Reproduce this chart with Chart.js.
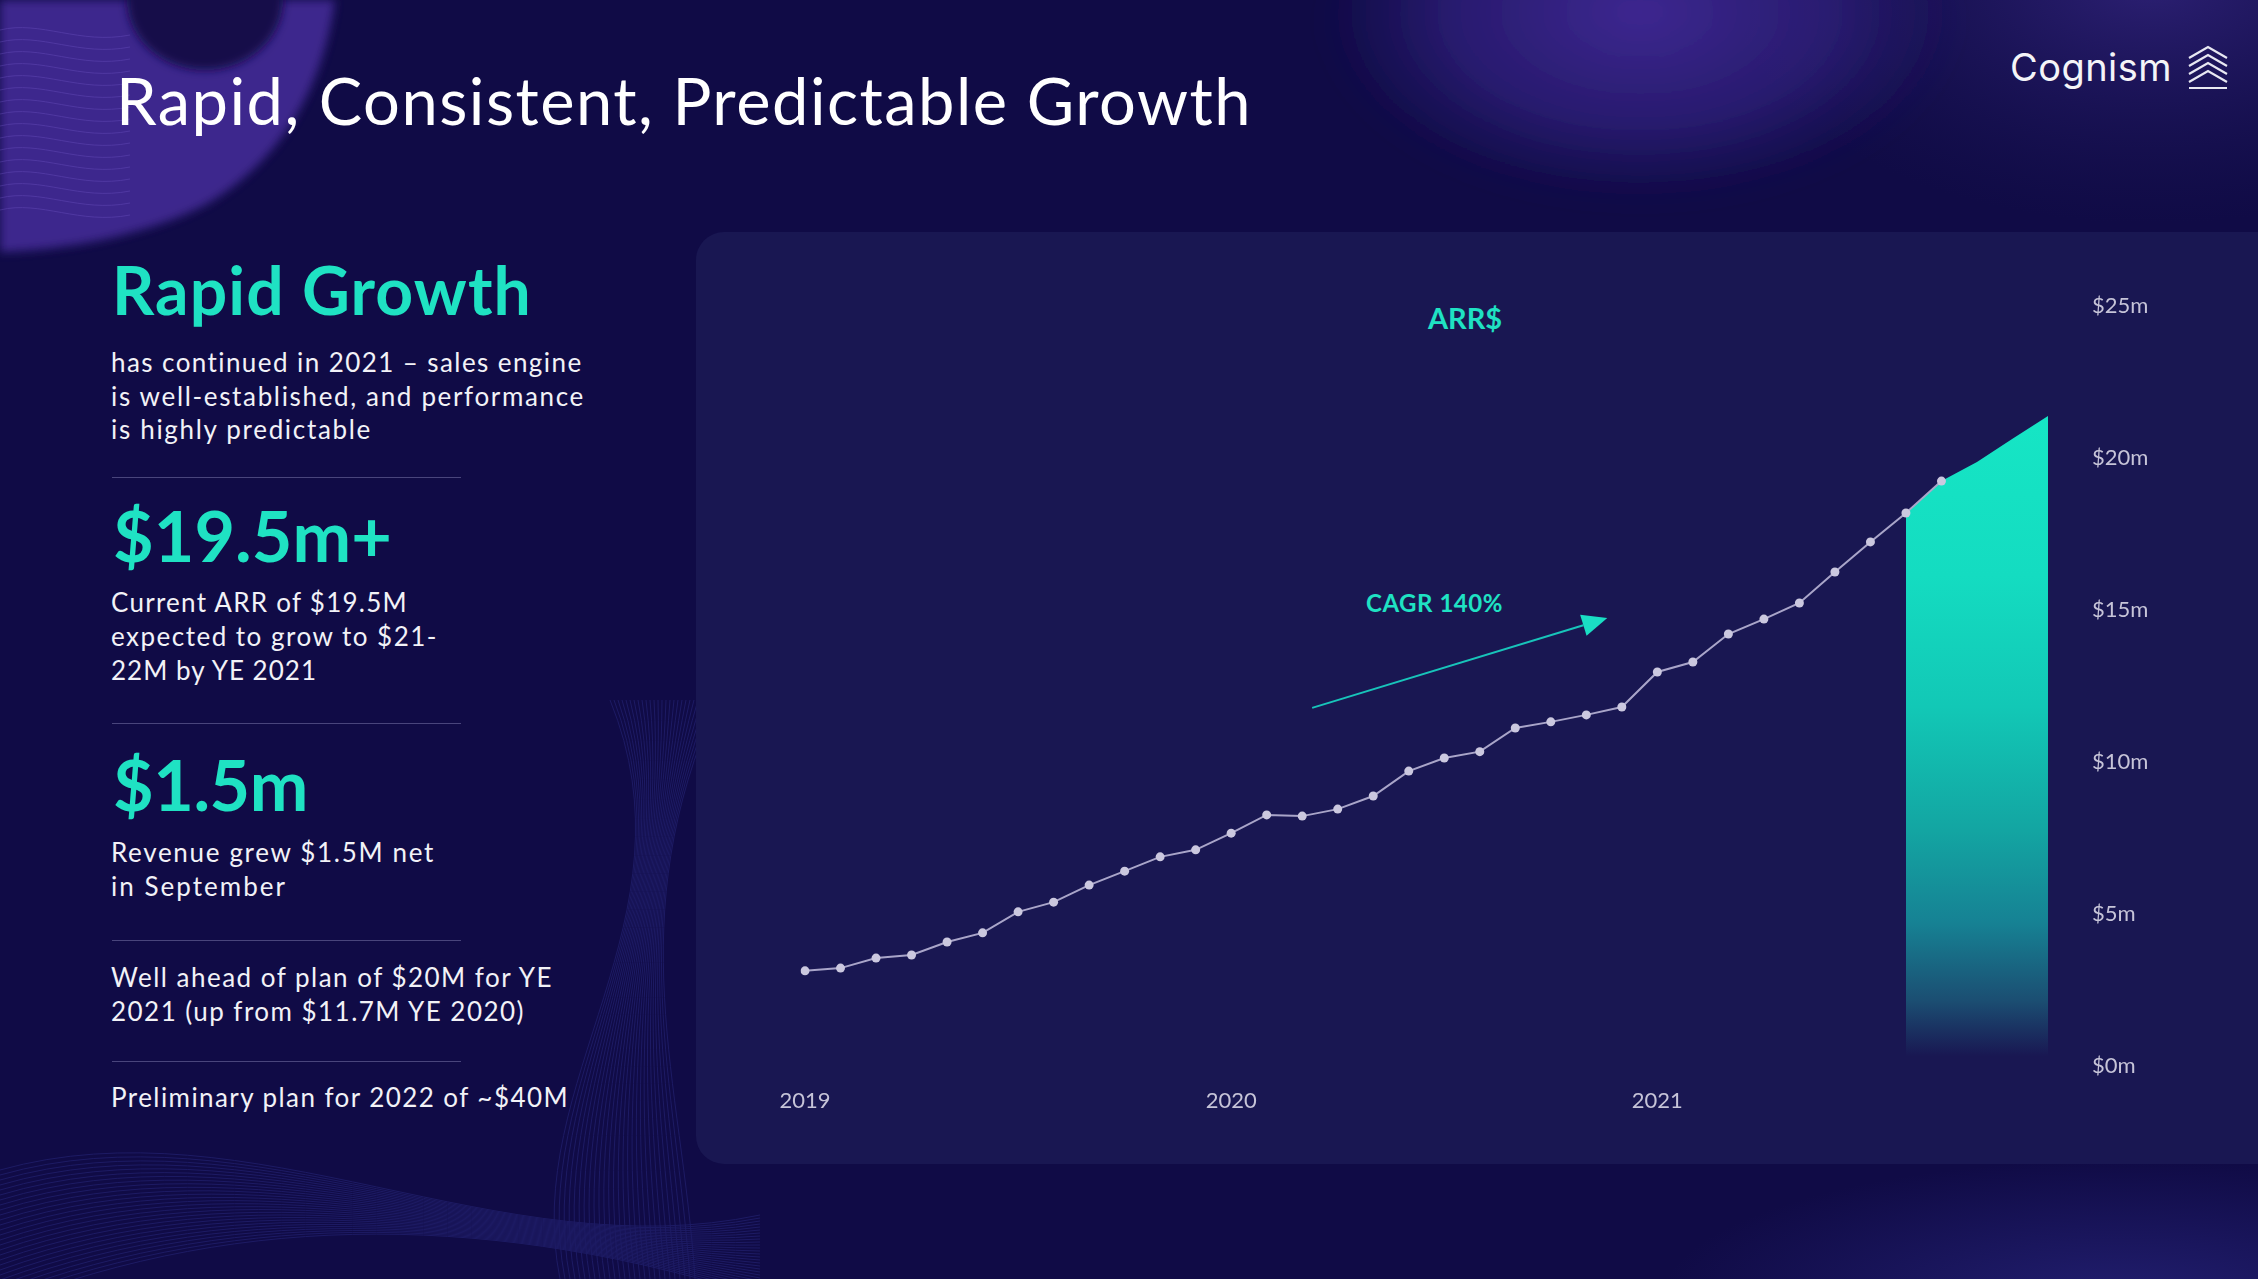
<!DOCTYPE html>
<html><head><meta charset="utf-8">
<script src="https://cdn.jsdelivr.net/npm/chart.js@4.4.0/dist/chart.umd.min.js"></script>
<style>
html,body{margin:0;padding:0;}
body{width:2258px;height:1279px;overflow:hidden;position:relative;background:#100b46;font-family:Lato,sans-serif;}
#bg{position:absolute;left:0;top:0;}
#panel{position:absolute;left:696px;top:232px;width:1620px;height:932px;border-radius:28px;background:#191752;}
.t{position:absolute;white-space:nowrap;line-height:1.2;}
.sep{position:absolute;height:0;border-top:1.5px solid rgba(120,118,170,0.55);}
#chart{position:absolute;left:0;top:0;}
#logo{position:absolute;left:0;top:0;}
</style></head>
<body>
<svg id="bg" width="2258" height="1279" xmlns="http://www.w3.org/2000/svg">
<defs>
  <filter id="blur"><feGaussianBlur stdDeviation="5"/></filter>
  <filter id="blur2"><feGaussianBlur stdDeviation="14"/></filter>
  <radialGradient id="gMid" cx="0.5" cy="0.4" r="0.5">
    <stop offset="0" stop-color="#4a2fa5" stop-opacity="0.8"/>
    <stop offset="0.6" stop-color="#3b2790" stop-opacity="0.55"/>
    <stop offset="1" stop-color="#2a1e7a" stop-opacity="0"/>
  </radialGradient>
  <radialGradient id="gRight" cx="0.5" cy="0.3" r="0.5">
    <stop offset="0" stop-color="#2f2278" stop-opacity="0.9"/>
    <stop offset="1" stop-color="#1c1658" stop-opacity="0"/>
  </radialGradient>
  <radialGradient id="gBR" cx="0.5" cy="0.5" r="0.5">
    <stop offset="0" stop-color="#2d2b8a" stop-opacity="0.6"/>
    <stop offset="1" stop-color="#2d2b8a" stop-opacity="0"/>
  </radialGradient>
</defs>
<rect width="2258" height="1279" fill="#100b46"/>
<ellipse cx="2150" cy="80" rx="420" ry="240" fill="url(#gRight)"/>
<path d="M0,0 L335,0 C322,95 275,165 205,205 C140,238 60,250 0,252 Z" fill="#4a2d9f" opacity="0.8" filter="url(#blur)"/>
<ellipse cx="205" cy="0" rx="78" ry="70" fill="#120c4a" filter="url(#blur)"/>
<ellipse cx="1640" cy="50" rx="320" ry="190" fill="url(#gMid)" filter="url(#blur2)"/>
<ellipse cx="2120" cy="1300" rx="460" ry="140" fill="url(#gBR)"/>
<g id="decoLines" fill="none" stroke="#3b3fa8" stroke-width="1" opacity="0.3"></g>
</svg>
<div id="panel"></div>
<div id="texts"></div>
<svg id="logo" width="2258" height="120" xmlns="http://www.w3.org/2000/svg">
  <g fill="none" stroke="#e8e8f2" stroke-width="2.2" stroke-linejoin="miter">
    <polyline points="2189,58 2208,47 2227,58"/>
    <polyline points="2189,66 2208,55 2227,66"/>
    <polyline points="2189,74 2208,63 2227,74"/>
    <polyline points="2189,82 2208,71 2227,82"/>
    <line x1="2189" y1="88" x2="2227" y2="88"/>
  </g>
</svg>
<canvas id="chart" width="2258" height="1279"></canvas>
<script>
// ---------------- DATA ----------------
const months = ['Jan 2019','Feb 2019','Mar 2019','Apr 2019','May 2019','Jun 2019','Jul 2019','Aug 2019','Sep 2019','Oct 2019','Nov 2019','Dec 2019',
  'Jan 2020','Feb 2020','Mar 2020','Apr 2020','May 2020','Jun 2020','Jul 2020','Aug 2020','Sep 2020','Oct 2020','Nov 2020','Dec 2020',
  'Jan 2021','Feb 2021','Mar 2021','Apr 2021','May 2021','Jun 2021','Jul 2021','Aug 2021','Sep 2021','Oct 2021','Nov 2021','Dec 2021'];
const yearLabels = ['2019','2020','2021'];
const arrValues = [3.13,3.22,3.55,3.65,4.08,4.38,5.07,5.39,5.95,6.41,6.88,7.11,
  7.66,8.26,8.22,8.45,8.88,9.70,10.13,10.34,11.12,11.32,11.55,11.81,
  12.96,13.29,14.21,14.70,15.23,16.25,17.24,18.19,19.24];
const forecastMonths = ['Aug 2021','Sep 2021','Oct 2021','Nov 2021','Dec 2021'];
const forecastValues = [18.19,19.24,19.87,20.63,21.38];
const yTickLabels = ['$0m','$5m','$10m','$15m','$20m','$25m'];
const chartTitle = 'ARR$';
const cagrLabel = 'CAGR 140%';

// ---------------- TEXT ----------------
const WHITE = '#f2f2f7', TEAL = '#1fe2c3';
const texts = [
  {s:'Rapid, Consistent, Predictable Growth', x:116, b:125, f:65, w:400, c:'#ffffff', tw:1136},
  {s:'Cognism', x:2010, b:82, f:38, w:400, c:'#f4f4f8', tw:162, fam:'Inter', asc:0.964},
  {s:'Rapid Growth', x:112, b:315, f:66, w:700, c:TEAL, tw:420},
  {s:'has continued in 2021 \u2013 sales engine', x:111, b:373, f:26, w:400, c:WHITE, tw:472},
  {s:'is well-established, and performance', x:111, b:407, f:26, w:400, c:WHITE, tw:474},
  {s:'is highly predictable', x:111, b:440, f:26, w:400, c:WHITE, tw:261},
  {s:'$19.5m+', x:113, b:562, f:70, w:700, c:TEAL, tw:279},
  {s:'Current ARR of $19.5M', x:111, b:613, f:26, w:400, c:WHITE, tw:297},
  {s:'expected to grow to $21-', x:111, b:647, f:26, w:400, c:WHITE, tw:327},
  {s:'22M by YE 2021', x:111, b:681, f:26, w:400, c:WHITE, tw:206},
  {s:'$1.5m', x:113, b:811, f:70, w:700, c:TEAL, tw:195},
  {s:'Revenue grew $1.5M net', x:111, b:863, f:26, w:400, c:WHITE, tw:324},
  {s:'in September', x:111, b:897, f:26, w:400, c:WHITE, tw:176},
  {s:'Well ahead of plan of $20M for YE', x:111, b:988, f:26, w:400, c:WHITE, tw:442},
  {s:'2021 (up from $11.7M YE 2020)', x:111, b:1022, f:26, w:400, c:WHITE, tw:414},
  {s:'Preliminary plan for 2022 of ~$40M', x:111, b:1108, f:26, w:400, c:WHITE, tw:458},
  {s:chartTitle, x:1428, b:330, f:29, w:700, c:TEAL, tw:74},
  {s:cagrLabel, x:1366, b:613, f:24, w:700, c:TEAL, tw:137}
];
const seps = [477, 723, 940, 1061];

const host = document.getElementById('texts');
const els = [];
texts.forEach(t => {
  const d = document.createElement('div');
  d.className = 't';
  d.textContent = t.s;
  d.style.fontFamily = (t.fam || 'Lato') + ', sans-serif';
  d.style.fontSize = t.f + 'px';
  d.style.fontWeight = t.w;
  d.style.color = t.c;
  d.style.left = t.x + 'px';
  d.style.top = (t.b - (t.asc || 0.987) * t.f) + 'px';
  host.appendChild(d);
  els.push([d, t]);
});
seps.forEach(y => {
  const s = document.createElement('div');
  s.className = 'sep';
  s.style.left = '112px'; s.style.width = '349px'; s.style.top = y + 'px';
  host.appendChild(s);
});
function fitTexts(){
  els.forEach(([d, t]) => {
    d.style.letterSpacing = '0px';
    const w = d.getBoundingClientRect().width;
    const n = t.s.length;
    d.style.letterSpacing = ((t.tw - w) / n) + 'px';
  });
}

// decorative background lines
(function(){
  const g = document.getElementById('decoLines');
  const NS = 'http://www.w3.org/2000/svg';
  for (let i = 0; i < 28; i++) {
    const p = document.createElementNS(NS, 'path');
    p.setAttribute('d', `M${560 + i*5},1279 C${520 + i*6},1080 ${700 - i*3},920 ${610 + i*4},700`);
    g.appendChild(p);
    const q = document.createElementNS(NS, 'path');
    q.setAttribute('d', `M0,${1170 + i*5} C250,${1100 + i*4} 500,${1270 - i*2} 760,${1215 + i*3}`);
    g.appendChild(q);
  }
  for (let i = 0; i < 16; i++) {
    const p = document.createElementNS(NS, 'path');
    p.setAttribute('d', `M0,${30 + i*12} C40,${20 + i*12} 80,${45 + i*12} 130,${35 + i*12}`);
    p.setAttribute('stroke', '#7a5fd0');
    g.appendChild(p);
  }
})();

// ---------------- CHART ----------------
const PANEL = 'rgba(25,23,82,1)';
function areaGradient(ctx){
  const chart = ctx.chart;
  if (!chart.chartArea) return 'rgba(0,0,0,0)';
  const y = chart.scales.y;
  const top = y.getPixelForValue(21.5), bottom = y.getPixelForValue(0);
  const g = chart.ctx.createLinearGradient(0, top, 0, bottom);
  g.addColorStop(0.00, 'rgb(22,230,197)');
  g.addColorStop(0.25, 'rgb(20,220,193)');
  g.addColorStop(0.45, 'rgb(18,200,182)');
  g.addColorStop(0.64, 'rgb(19,165,162)');
  g.addColorStop(0.78, 'rgb(22,130,148)');
  g.addColorStop(0.90, 'rgb(27,78,114)');
  g.addColorStop(0.985, PANEL);
  g.addColorStop(1.00, PANEL);
  return g;
}

const arrowPlugin = {
  id: 'cagrArrow',
  afterDatasetsDraw(chart){
    const {ctx, scales:{x, y}} = chart;
    const x0 = x.getPixelForValue(14.28), y0 = y.getPixelForValue(11.78);
    const x1 = x.getPixelForValue(22.59), y1 = y.getPixelForValue(14.74);
    const ang = Math.atan2(y1 - y0, x1 - x0);
    const L = 25, H = 11;
    const bx = x1 - L*Math.cos(ang), by = y1 - L*Math.sin(ang);
    ctx.save();
    ctx.strokeStyle = 'rgb(24,196,186)';
    ctx.fillStyle = 'rgb(26,222,196)';
    ctx.lineWidth = 2;
    ctx.beginPath(); ctx.moveTo(x0, y0); ctx.lineTo(bx, by); ctx.stroke();
    ctx.beginPath();
    ctx.moveTo(x1, y1);
    ctx.lineTo(bx + H*Math.sin(ang), by - H*Math.cos(ang));
    ctx.lineTo(bx - H*Math.sin(ang), by + H*Math.cos(ang));
    ctx.closePath(); ctx.fill();
    ctx.restore();
  }
};

function buildChart(){
  const TICK = '#c6c4d8';
  new Chart(document.getElementById('chart'), {
    type: 'line',
    data: {
      labels: months,
      datasets: [
        {label:'ARR', data: arrValues, borderColor:'#a9a5c9', borderWidth:2,
         pointRadius:4.5, pointBackgroundColor:'#cbc8df', pointBorderWidth:0,
         tension:0, fill:false, order:0},
        {label:'Forecast', data: forecastMonths.map((m, i) => ({x:m, y:forecastValues[i]})),
         borderWidth:0, borderColor:'rgba(0,0,0,0)', pointRadius:0, tension:0,
         fill:'origin', backgroundColor: areaGradient, order:1}
      ]
    },
    options: {
      responsive:false, animation:false, devicePixelRatio:1,
      layout:{padding:{left:805, top:306, right:0, bottom:153}},
      plugins:{legend:{display:false}, tooltip:{enabled:false}, title:{display:false}},
      scales:{
        x:{type:'category', offset:false,
           grid:{display:false, drawTicks:false}, border:{display:false},
           ticks:{autoSkip:false, maxRotation:0, minRotation:0, padding:22, color:TICK,
                  font:{family:'Lato', size:22},
                  callback:(v, i) => (i % 12 === 0 ? yearLabels[i / 12] : '')},
           afterFit:(s) => { s.height = 60; }},
        y:{position:'right', min:0, max:25,
           grid:{display:false, drawTicks:false}, border:{display:false},
           ticks:{stepSize:5, padding:44, color:TICK, font:{family:'Lato', size:22},
                  callback:(v, i) => yTickLabels[i]},
           afterFit:(s) => { s.width = 210; }}
      }
    },
    plugins:[arrowPlugin]
  });
}

const go = () => { fitTexts(); buildChart(); };
if (document.fonts && document.fonts.ready) document.fonts.ready.then(go); else go();
</script>
</body></html>
